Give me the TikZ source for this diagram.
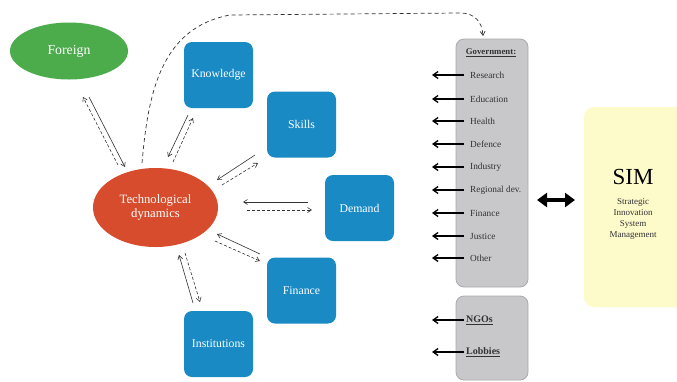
\documentclass[tikz,border=0pt]{standalone}
\usepackage{fontspec}
\setmainfont{Liberation Serif}
\usetikzlibrary{arrows.meta,shapes.geometric}
\definecolor{fgreen}{RGB}{76,172,76}
\definecolor{tred}{RGB}{214,76,44}
\definecolor{bblue}{RGB}{26,138,196}
\definecolor{ggray}{RGB}{200,200,203}
\definecolor{gedge}{RGB}{170,170,172}
\definecolor{syellow}{RGB}{254,251,202}
\definecolor{gtext}{RGB}{50,50,55}
\tikzset{
  bluebox/.style={fill=bblue, draw=none, rounded corners=8pt, minimum width=69pt, minimum height=66pt, text=white, font=\fontsize{11.8}{13}\selectfont, inner sep=0pt},
  solidarr/.style={-{Straight Barb[length=4pt,width=5pt]}, line width=0.6pt, black!80},
  dasharr/.style={-{Straight Barb[length=4pt,width=5pt]}, line width=0.6pt, black!80, dash pattern=on 3pt off 2pt},
  govtext/.style={anchor=west, text=gtext, font=\fontsize{9.3}{10}\selectfont, inner sep=0pt},
  govarr/.style={-{Straight Barb[length=5pt,width=7pt]}, line width=1.3pt, black},
  graybox/.style={fill=ggray, draw=gedge, line width=0.8pt, rounded corners=8pt},
}
\begin{document}
\begin{tikzpicture}[x=1pt,y=-1pt]
\useasboundingbox (0,0) rectangle (677,381);
\fill[white] (0,0) rectangle (677,381);
% nodes
\node[ellipse, fill=fgreen, minimum width=118pt, minimum height=57pt, text=white, font=\fontsize{13.8}{15}\selectfont] (foreign) at (69,51) {Foreign};
\node[ellipse, fill=tred, minimum width=125pt, minimum height=79pt, text=white, font=\fontsize{12.7}{14}\selectfont, align=center, inner sep=0pt] (tech) at (155.5,207.5) {Technological\\dynamics};
\node[bluebox] (know) at (218.5,75) {Knowledge};
\node[bluebox] (skills) at (301.5,124.5) {Skills};
\node[bluebox] (demand) at (359.5,208) {Demand};
\node[bluebox] (finance) at (301.5,290.5) {Finance};
\node[bluebox] (inst) at (218.5,344) {Institutions};
% gray boxes
\draw[graybox] (456,39) rectangle (528,287);
\draw[graybox] (456,296) rectangle (528,380);
\node[anchor=center, text=gtext, font=\fontsize{8.8}{10}\bfseries\selectfont, inner sep=0pt] (gov) at (491,53) {\underline{Government:}};
\node[govtext] (t1) at (470,75) {Research};
\node[govtext] (t2) at (470,99) {Education};
\node[govtext] (t3) at (470,121) {Health};
\node[govtext] (t4) at (470,144) {Defence};
\node[govtext] (t5) at (470,167) {Industry};
\node[govtext] (t6) at (470,190) {Regional dev.};
\node[govtext] (t7) at (470,213) {Finance};
\node[govtext] (t8) at (470,236) {Justice};
\node[govtext] (t9) at (470,258) {Other};
\node[govtext, font=\fontsize{10}{11}\bfseries\selectfont] (ngo) at (466,320) {\underline{NGOs}};
\node[govtext, font=\fontsize{10}{11}\bfseries\selectfont] (lob) at (466,352) {\underline{Lobbies}};
\foreach \i/\y in {1/75,2/99,3/121,4/144,5/167,6/190,7/213,8/236,9/258}{
  \coordinate (g\i s) at (464,\y);
  \coordinate (g\i e) at (432,\y);
  \draw[govarr] (g\i s) -- (g\i e);
}
\coordinate (ngs) at (464,320); \coordinate (nge) at (432,320);
\draw[govarr] (ngs) -- (nge);
\coordinate (lbs) at (464,352); \coordinate (lbe) at (432,352);
\draw[govarr] (lbs) -- (lbe);
% SIM box
\fill[syellow, rounded corners=10pt] (584,107) rectangle (700,307);
\node[text=black, font=\fontsize{23}{25}\selectfont, inner sep=0pt] (sim) at (633,177) {SIM};
\node[text=gtext, font=\fontsize{9}{11.3}\selectfont, align=center, inner sep=0pt] (simt) at (633,219) {Strategic\\Innovation\\System\\Management};
% double arrow
\coordinate (da1) at (537,200); \coordinate (da2) at (575,200);
\draw[{Triangle[length=10pt,width=14pt]}-{Triangle[length=10pt,width=14pt]}, line width=3.5pt] (da1) -- (da2);
% pair arrows
\coordinate (f1) at (89,97); \coordinate (f2) at (125,167);
\coordinate (f3) at (118,165); \coordinate (f4) at (83,97);
\draw[solidarr] (f1) -- (f2); \draw[dasharr] (f3) -- (f4);
\coordinate (k1) at (188,115); \coordinate (k2) at (168,157);
\coordinate (k3) at (173,162); \coordinate (k4) at (193,118);
\draw[solidarr] (k1) -- (k2); \draw[dasharr] (k3) -- (k4);
\coordinate (s1) at (255,155); \coordinate (s2) at (217,180);
\coordinate (s3) at (222,185); \coordinate (s4) at (258,163);
\draw[solidarr] (s1) -- (s2); \draw[dasharr] (s3) -- (s4);
\coordinate (d1) at (308,202); \coordinate (d2) at (243,202);
\coordinate (d3) at (247,210); \coordinate (d4) at (312,210);
\draw[solidarr] (d1) -- (d2); \draw[dasharr] (d3) -- (d4);
\coordinate (fi1) at (260,254); \coordinate (fi2) at (217,234);
\coordinate (fi3) at (215,241); \coordinate (fi4) at (260,261);
\draw[solidarr] (fi1) -- (fi2); \draw[dasharr] (fi3) -- (fi4);
\coordinate (i1) at (193,303); \coordinate (i2) at (179,255);
\coordinate (i3) at (185,253); \coordinate (i4) at (200,302);
\draw[solidarr] (i1) -- (i2); \draw[dasharr] (i3) -- (i4);
% dashed curve to government
\coordinate (c1) at (142,163); \coordinate (c2) at (483,36);
\draw[dasharr, line width=0.7pt, dash pattern=on 4pt off 3pt] (c1) .. controls (148,95) and (160,28) .. (230,15) -- (460,13) .. controls (475,13) and (482,22) .. (c2);
\end{tikzpicture}
\end{document}
